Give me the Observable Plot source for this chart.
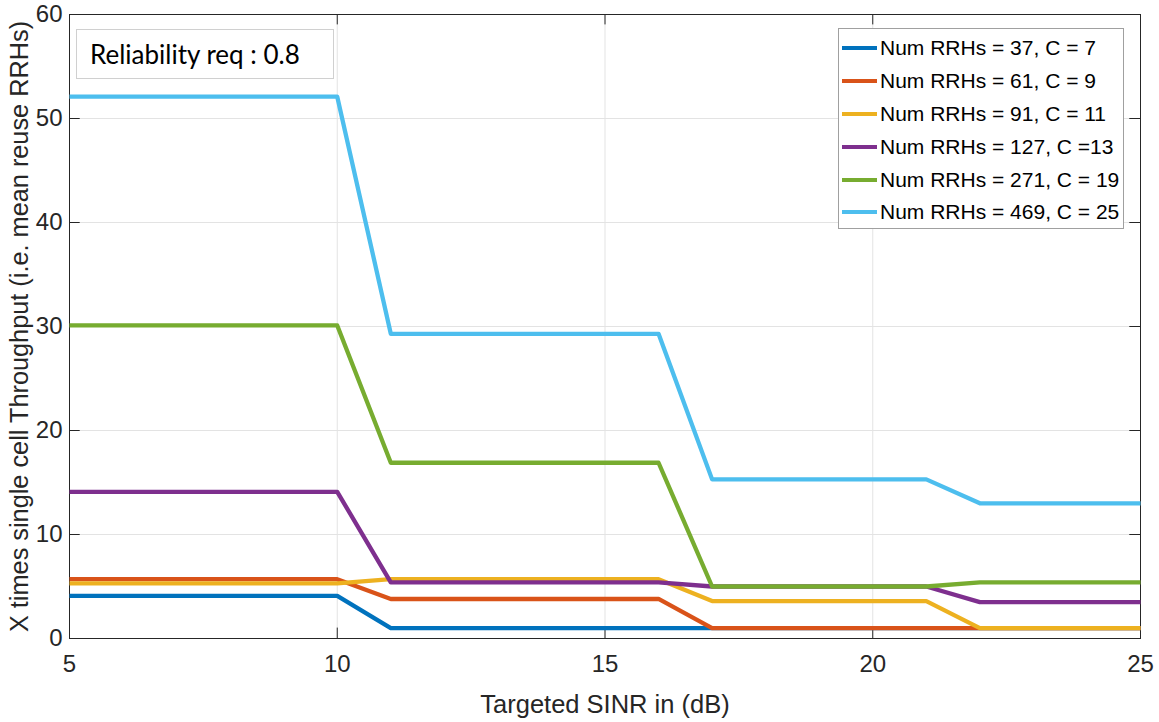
<!DOCTYPE html>
<html>
<head>
<meta charset="utf-8">
<script src="https://cdn.jsdelivr.net/npm/d3@7"></script>
<script src="https://cdn.jsdelivr.net/npm/@observablehq/plot@0.6"></script>
<style>
  html, body { margin: 0; padding: 0; background: #fff; }
  #wrap { position: relative; width: 1159px; height: 722px; }
  #note {
    position: absolute; left: 76px; top: 29px; width: 258px; height: 50px;
    border: 1px solid #d0d0d0; background: #fff; box-sizing: border-box;
    font-family: Lato, "Open Sans", sans-serif; font-size: 26px; color: #000;
    line-height: 48px; padding-left: 13px; white-space: nowrap;
  }
  #legend {
    position: absolute; left: 838px; top: 28px; width: 286px; height: 201px;
    border: 1px solid #a0a0a0; background: #fff; box-sizing: border-box;
    font-family: "Liberation Sans", Arial, sans-serif; font-size: 21px; color: #000;
    padding-top: 3px;
  }
  .item { height: 32.8px; display: flex; align-items: center; white-space: nowrap; }
  .swatch { width: 35px; height: 4px; margin-left: 3px; margin-right: 3px; }
</style>
</head>
<body>
<div id="wrap">
  <div id="chart"></div>
  <div id="note">Reliability req : 0.8</div>
  <div id="legend"></div>
</div>
<script>
const sinr = [5, 6, 7, 8, 9, 10, 11, 12, 13, 14, 15, 16, 17, 18, 19, 20, 21, 22, 23, 24, 25];

const seriesNames = [
  "Num RRHs = 37, C = 7",
  "Num RRHs = 61, C = 9",
  "Num RRHs = 91, C = 11",
  "Num RRHs = 127, C =13",
  "Num RRHs = 271, C = 19",
  "Num RRHs = 469, C = 25"
];
const seriesColors = ["#0072BD", "#D95319", "#EDB120", "#7E2F8E", "#77AC30", "#4DBEEE"];

const rrh37  = [4.1, 4.1, 4.1, 4.1, 4.1, 4.1, 1.0, 1.0, 1.0, 1.0, 1.0, 1.0, 1.0, 1.0, 1.0, 1.0, 1.0, 1.0, 1.0, 1.0, 1.0];
const rrh61  = [5.7, 5.7, 5.7, 5.7, 5.7, 5.7, 3.8, 3.8, 3.8, 3.8, 3.8, 3.8, 1.0, 1.0, 1.0, 1.0, 1.0, 1.0, 1.0, 1.0, 1.0];
const rrh91  = [5.3, 5.3, 5.3, 5.3, 5.3, 5.3, 5.7, 5.7, 5.7, 5.7, 5.7, 5.7, 3.6, 3.6, 3.6, 3.6, 3.6, 1.0, 1.0, 1.0, 1.0];
const rrh127 = [14.1, 14.1, 14.1, 14.1, 14.1, 14.1, 5.4, 5.4, 5.4, 5.4, 5.4, 5.4, 5.0, 5.0, 5.0, 5.0, 5.0, 3.5, 3.5, 3.5, 3.5];
const rrh271 = [30.1, 30.1, 30.1, 30.1, 30.1, 30.1, 16.9, 16.9, 16.9, 16.9, 16.9, 16.9, 5.0, 5.0, 5.0, 5.0, 5.0, 5.4, 5.4, 5.4, 5.4];
const rrh469 = [52.1, 52.1, 52.1, 52.1, 52.1, 52.1, 29.3, 29.3, 29.3, 29.3, 29.3, 29.3, 15.3, 15.3, 15.3, 15.3, 15.3, 13.0, 13.0, 13.0, 13.0];

const xTicks = [5, 10, 15, 20, 25];
const yTicks = [0, 10, 20, 30, 40, 50, 60];

const allSeries = [rrh37, rrh61, rrh91, rrh127, rrh271, rrh469];
const rows = [];
allSeries.forEach((vals, i) => {
  vals.forEach((v, j) => rows.push({ sinr: sinr[j], value: v, series: seriesNames[i] }));
});

const axisColor = "#262626";
const tickLenX = 1.0;  // in y data units
const tickLenY = 0.2;  // in x data units

const chart = Plot.plot({
  width: 1159,
  height: 722,
  marginLeft: 69,
  marginRight: 19,
  marginTop: 14,
  marginBottom: 84,
  style: { fontFamily: "'Liberation Sans', Arial, sans-serif", background: "#fff", overflow: "visible" },
  x: { domain: [5, 25], ticks: xTicks },
  y: { domain: [0, 60], ticks: yTicks },
  color: { domain: seriesNames, range: seriesColors },
  marks: [
    Plot.gridX(xTicks, { stroke: "#e3e3e3", strokeOpacity: 1 }),
    Plot.gridY(yTicks, { stroke: "#e3e3e3", strokeOpacity: 1 }),
    Plot.ruleX(xTicks, { y1: 0, y2: tickLenX, stroke: axisColor }),
    Plot.ruleX(xTicks, { y1: 60, y2: 60 - tickLenX, stroke: axisColor }),
    Plot.ruleY(yTicks, { x1: 5, x2: 5 + tickLenY, stroke: axisColor }),
    Plot.ruleY(yTicks, { x1: 25, x2: 25 - tickLenY, stroke: axisColor }),
    Plot.frame({ stroke: axisColor }),
    Plot.axisX(xTicks, {
      tickSize: 0, tickPadding: 16, fontSize: 24, fill: axisColor,
      label: null
    }),
    Plot.axisX({
      tickSize: 0, ticks: [], fontSize: 25.5, fill: axisColor,
      label: "Targeted SINR in (dB)", labelAnchor: "center", labelArrow: "none", labelOffset: 74
    }),
    Plot.axisY(yTicks, {
      tickSize: 0, tickPadding: 7, fontSize: 24, fill: axisColor,
      label: null
    }),
    Plot.axisY({
      tickSize: 0, ticks: [], fontSize: 25.3, fill: axisColor,
      label: "X times single cell Throughput (i.e. mean reuse RRHs)", labelAnchor: "center", labelArrow: "none", labelOffset: 59
    }),
    Plot.line(rows, {
      x: "sinr", y: "value", z: "series", stroke: "series",
      strokeWidth: 4.3, strokeLinejoin: "round", strokeLinecap: "butt"
    })
  ]
});

document.getElementById("chart").appendChild(chart);

const legend = document.getElementById("legend");
seriesNames.forEach((name, i) => {
  const item = document.createElement("div");
  item.className = "item";
  const sw = document.createElement("div");
  sw.className = "swatch";
  sw.style.background = seriesColors[i];
  const label = document.createElement("span");
  label.textContent = name;
  item.appendChild(sw);
  item.appendChild(label);
  legend.appendChild(item);
});
</script>
</body>
</html>
